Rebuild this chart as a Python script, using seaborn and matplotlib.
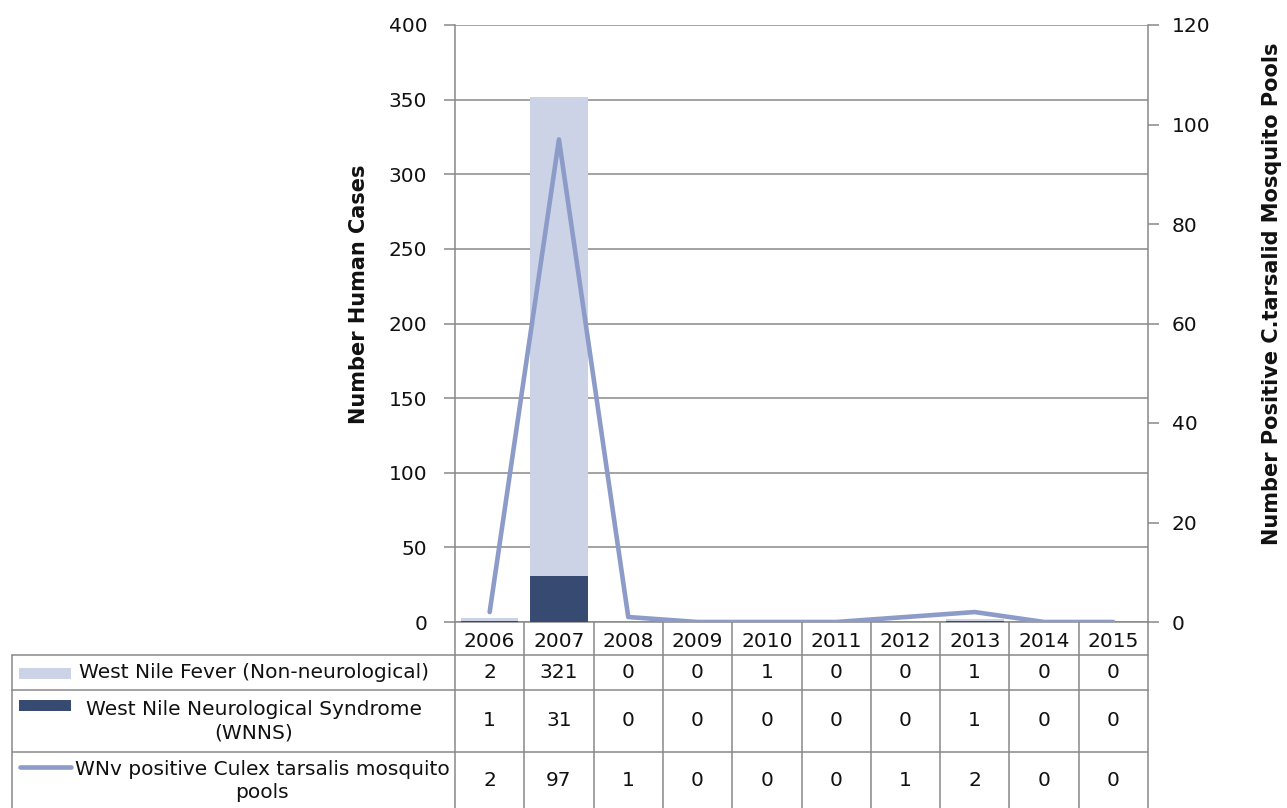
import numpy as np
import pandas as pd
import matplotlib
matplotlib.use("Agg")
import matplotlib.pyplot as plt
import matplotlib.transforms as mtransforms
from matplotlib.patches import Rectangle
from matplotlib.lines import Line2D
import seaborn as sns

# Data
years = ["2006", "2007", "2008", "2009", "2010", "2011", "2012", "2013", "2014", "2015"]
wnf_cases = [2, 321, 0, 0, 1, 0, 0, 1, 0, 0]          # West Nile Fever (non-neurological)
wnns_cases = [1, 31, 0, 0, 0, 0, 0, 1, 0, 0]          # West Nile Neurological Syndrome
mosquito_pools = [2, 97, 1, 0, 0, 0, 1, 2, 0, 0]      # WNv positive Culex tarsalis pools

series_labels = [
    "West Nile Fever (Non-neurological)",
    "West Nile Neurological Syndrome\n(WNNS)",
    "WNv positive Culex tarsalis mosquito\npools",
]

LIGHT = "#CDD3E7"
DARK = "#364A72"
LINE = "#8C9BC8"
GRID = "#898989"
TXT = "#111111"
FS = 14.5
LFS = 15

sns.set_theme(style="white")
plt.rcParams["font.family"] = ["DejaVu Sans"]

W, H = 1287, 808
fig = plt.figure(figsize=(W / 100, H / 100), dpi=100)

def fx(px):
    return px / W

def fy(py):
    return 1 - py / H

left, right, top, bottom = 455, 1148, 25, 622
ax = fig.add_axes([fx(left), fy(bottom), fx(right - left), (bottom - top) / H])

idx = np.arange(len(years))
df = pd.DataFrame({
    "year": years,
    "pos": idx,
    "wnf": wnf_cases,
    "wnns": wnns_cases,
    "pools": mosquito_pools,
})
df["total"] = df["wnf"] + df["wnns"]

# Stacked bars: total in light, neurological cases overlaid at the base
sns.barplot(data=df, x="year", y="total", color=LIGHT, width=0.83,
            saturation=1, linewidth=0, ax=ax, zorder=2)
sns.barplot(data=df, x="year", y="wnns", color=DARK, width=0.83,
            saturation=1, linewidth=0, ax=ax, zorder=3)

ax.set_xlim(-0.5, len(years) - 0.5)
ax.set_ylim(0, 400)
ax.set_yticks(np.arange(0, 401, 50))
ax.yaxis.grid(True, color=GRID, linewidth=1.1)
ax.set_axisbelow(True)
ax.tick_params(axis="y", length=8, width=1.1, color=GRID, labelsize=FS,
               labelcolor=TXT, pad=12, left=True)
ax.tick_params(axis="x", length=0, labelsize=FS, labelcolor=TXT, pad=7)
ax.set_xlabel("")
ax.set_ylabel("Number Human Cases", fontsize=LFS, fontweight="bold", color=TXT)
ax.yaxis.set_label_coords(-0.124, 0.549)
for s in ["top", "right"]:
    ax.spines[s].set_visible(False)
ax.spines["left"].set_color(GRID)
ax.spines["left"].set_linewidth(1.1)
ax.spines["bottom"].set_color(GRID)
ax.spines["bottom"].set_linewidth(1.1)

# Secondary axis: mosquito pools
ax2 = ax.twinx()
sns.lineplot(data=df, x="pos", y="pools", color=LINE, linewidth=3.3,
             sort=False, ax=ax2, zorder=4)
ax2.set_ylim(0, 120)
ax2.set_yticks(np.arange(0, 121, 20))
ax2.set_xlim(-0.5, len(years) - 0.5)
ax2.tick_params(axis="y", length=8, width=1.1, color=GRID, labelsize=FS,
                labelcolor=TXT, pad=9, right=True)
ax2.set_ylabel("Number Positive C.tarsalid Mosquito Pools", fontsize=LFS,
               fontweight="bold", color=TXT)
ax2.yaxis.set_label_coords(1.165, 0.549)
for s in ["top", "left", "bottom"]:
    ax2.spines[s].set_visible(False)
ax2.spines["right"].set_color(GRID)
ax2.spines["right"].set_linewidth(1.1)
ax2.set_xlabel("")

# Data table beneath the plot
blend = mtransforms.blended_transform_factory(ax.transData, fig.transFigure)
row_edges = [655, 690, 752, 808]
label_left = 12

# vertical cell borders
for k in range(len(years) + 1):
    ax.add_line(Line2D([k - 0.5, k - 0.5], [fy(bottom), fy(H)], transform=blend,
                       color=GRID, linewidth=1.1, clip_on=False))
fig.add_artist(Line2D([fx(label_left), fx(label_left)], [fy(row_edges[0]), fy(H)],
                      color=GRID, linewidth=1.1))
# horizontal row borders
for ry in row_edges[:-1]:
    fig.add_artist(Line2D([fx(label_left), fx(right)], [fy(ry), fy(ry)],
                          color=GRID, linewidth=1.1))

rows = [wnf_cases, wnns_cases, mosquito_pools]
label_cx = [254, 254, 262]
label_cy = [672, 721, 781]
for r, vals in enumerate(rows):
    y0, y1 = row_edges[r], row_edges[r + 1]
    yc = (y0 + y1) / 2
    for k, v in enumerate(vals):
        ax.text(k, fy(yc), str(v), transform=blend, ha="center", va="center",
                fontsize=FS, color=TXT, clip_on=False)
    fig.text(fx(label_cx[r]), fy(label_cy[r]), series_labels[r], ha="center",
             va="center", fontsize=FS, color=TXT, multialignment="center",
             linespacing=1.3)

# legend keys inside the label column
fig.add_artist(Rectangle((fx(19), fy(679)), fx(52), 11 / H, color=LIGHT, lw=0))
fig.add_artist(Rectangle((fx(19), fy(711)), fx(52), 11 / H, color=DARK, lw=0))
fig.add_artist(Line2D([fx(20), fx(71)], [fy(767), fy(767)], color=LINE,
                      linewidth=3.3, solid_capstyle="round"))

fig.savefig("out.png", dpi=100, facecolor="white")
